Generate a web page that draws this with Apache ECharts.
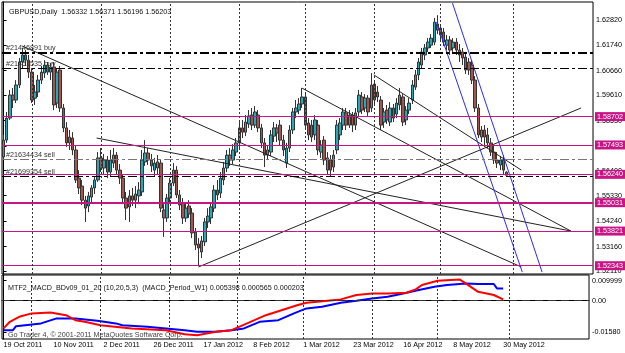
<!DOCTYPE html>
<html>
<head>
<meta charset="utf-8">
<title>GBPUSD Daily</title>
<script src="https://cdn.jsdelivr.net/npm/echarts/dist/echarts.min.js"></script>
<style>
	html, body { margin: 0; padding: 0; background: #fff; }
	#main { width: 625px; height: 353px; }
</style>
</head>
<body>
<div id="main"></div>
<script>
// bars: one per weekday from 19 Oct 2011, 161 with prices, the rest is the empty shift area
var firstDay = Date.UTC(2011, 9, 19);
var slotCount = 188;
var monthNames = ['Jan', 'Feb', 'Mar', 'Apr', 'May', 'Jun', 'Jul', 'Aug', 'Sep', 'Oct', 'Nov', 'Dec'];

var tickLabels = ['19 Oct 2011', '10 Nov 2011', '2 Dec 2011', '26 Dec 2011', '17 Jan 2012', '8 Feb 2012',
	'1 Mar 2012', '23 Mar 2012', '16 Apr 2012', '8 May 2012', '30 May 2012'];
var monthStarts = ['1 Nov 2011', '1 Dec 2011', '2 Jan 2012', '1 Feb 2012', '1 Mar 2012', '2 Apr 2012', '1 May 2012', '1 Jun 2012'];

var opens = [
	1.5698, 1.5770, 1.5864, 1.5962, 1.5941, 1.6005, 1.6103, 1.6133, 1.6111, 1.6060,
	1.5949, 1.5975, 1.6026, 1.6056, 1.6090, 1.6060, 1.6082, 1.5928, 1.6069, 1.5907,
	1.5822, 1.5758, 1.5779, 1.5728, 1.5608, 1.5574, 1.5514, 1.5489, 1.5527, 1.5566,
	1.5600, 1.5694, 1.5651, 1.5685, 1.5634, 1.5672, 1.5706, 1.5642, 1.5608, 1.5523,
	1.5485, 1.5532, 1.5514, 1.5532, 1.5549, 1.5677, 1.5715, 1.5685, 1.5642, 1.5651,
	1.5672, 1.5472, 1.5438, 1.5523, 1.5587, 1.5642, 1.5536, 1.5502, 1.5438, 1.5489,
	1.5459, 1.5378, 1.5327, 1.5293, 1.5336, 1.5421, 1.5438, 1.5480, 1.5557, 1.5544,
	1.5600, 1.5651, 1.5706, 1.5685, 1.5719, 1.5758, 1.5822, 1.5804, 1.5839, 1.5877,
	1.5834, 1.5877, 1.5822, 1.5758, 1.5706, 1.5719, 1.5787, 1.5822, 1.5834, 1.5770,
	1.5672, 1.5736, 1.5813, 1.5890, 1.5898, 1.5924, 1.5954, 1.5843, 1.5834, 1.5792,
	1.5834, 1.5719, 1.5770, 1.5642, 1.5685, 1.5655, 1.5728, 1.5792, 1.5834, 1.5886,
	1.5834, 1.5877, 1.5834, 1.5890, 1.5954, 1.5907, 1.5949, 1.5907, 1.6009, 1.5975,
	1.5941, 1.5847, 1.5898, 1.5847, 1.5907, 1.5881, 1.5920, 1.5954, 1.5856, 1.5898,
	1.5941, 1.5996, 1.6048, 1.6090, 1.6133, 1.6163, 1.6175, 1.6188, 1.6265, 1.6248,
	1.6231, 1.6175, 1.6197, 1.6163, 1.6188, 1.6154, 1.6146, 1.6124, 1.6103, 1.6090,
	1.6026, 1.5907, 1.5783, 1.5813, 1.5792, 1.5758, 1.5719, 1.5685, 1.5664, 1.5685, 1.56332
];
var highs = [
	1.5792, 1.5890, 1.5984, 1.5992, 1.6026, 1.6120, 1.6163, 1.6154, 1.6133, 1.6077,
	1.6005, 1.6048, 1.6086, 1.6111, 1.6103, 1.6099, 1.6103, 1.6077, 1.6086, 1.5924,
	1.5847, 1.5813, 1.5804, 1.5745, 1.5642, 1.5600, 1.5532, 1.5549, 1.5578, 1.5617,
	1.5719, 1.5736, 1.5711, 1.5702, 1.5728, 1.5736, 1.5719, 1.5668, 1.5621, 1.5549,
	1.5557, 1.5566, 1.5574, 1.5591, 1.5728, 1.5770, 1.5736, 1.5711, 1.5694, 1.5706,
	1.5685, 1.5497, 1.5540, 1.5608, 1.5672, 1.5659, 1.5557, 1.5523, 1.5497, 1.5514,
	1.5480, 1.5395, 1.5352, 1.5361, 1.5438, 1.5480, 1.5506, 1.5578, 1.5600, 1.5634,
	1.5677, 1.5728, 1.5736, 1.5753, 1.5779, 1.5847, 1.5856, 1.5877, 1.5898, 1.5907,
	1.5915, 1.5898, 1.5839, 1.5779, 1.5749, 1.5813, 1.5847, 1.5839, 1.5856, 1.5792,
	1.5758, 1.5834, 1.5907, 1.5941, 1.5949, 1.5992, 1.5975, 1.5864, 1.5856, 1.5877,
	1.5856, 1.5770, 1.5787, 1.5719, 1.5706, 1.5728, 1.5856, 1.5864, 1.5907, 1.5907,
	1.5898, 1.5890, 1.5907, 1.5984, 1.5975, 1.5966, 1.5962, 1.6056, 1.6026, 1.6001,
	1.5958, 1.5907, 1.5920, 1.5932, 1.5924, 1.5949, 1.5992, 1.5966, 1.5915, 1.5949,
	1.6026, 1.6069, 1.6120, 1.6163, 1.6180, 1.6205, 1.6222, 1.6291, 1.6303, 1.6265,
	1.6248, 1.6218, 1.6214, 1.6205, 1.6205, 1.6180, 1.6163, 1.6146, 1.6120, 1.6111,
	1.6043, 1.5924, 1.5830, 1.5834, 1.5822, 1.5779, 1.5745, 1.5719, 1.5702, 1.5706, 1.56371
];
var lows = [
	1.5685, 1.5758, 1.5856, 1.5907, 1.5928, 1.5992, 1.6077, 1.6086, 1.6035, 1.5928,
	1.5920, 1.5954, 1.6009, 1.6035, 1.6048, 1.6026, 1.5898, 1.5907, 1.5890, 1.5804,
	1.5741, 1.5728, 1.5706, 1.5587, 1.5540, 1.5493, 1.5421, 1.5463, 1.5506, 1.5540,
	1.5592, 1.5634, 1.5625, 1.5608, 1.5617, 1.5651, 1.5625, 1.5583, 1.5497, 1.5429,
	1.5421, 1.5489, 1.5480, 1.5497, 1.5532, 1.5660, 1.5664, 1.5634, 1.5617, 1.5625,
	1.5463, 1.5357, 1.5421, 1.5506, 1.5574, 1.5523, 1.5472, 1.5412, 1.5421, 1.5438,
	1.5352, 1.5301, 1.5233, 1.5267, 1.5318, 1.5395, 1.5412, 1.5463, 1.5514, 1.5523,
	1.5578, 1.5634, 1.5660, 1.5668, 1.5702, 1.5736, 1.5779, 1.5787, 1.5822, 1.5813,
	1.5822, 1.5804, 1.5736, 1.5655, 1.5685, 1.5702, 1.5762, 1.5762, 1.5749, 1.5702,
	1.5651, 1.5719, 1.5796, 1.5864, 1.5881, 1.5907, 1.5822, 1.5770, 1.5762, 1.5770,
	1.5706, 1.5694, 1.5664, 1.5625, 1.5613, 1.5634, 1.5711, 1.5770, 1.5813, 1.5813,
	1.5822, 1.5804, 1.5813, 1.5873, 1.5881, 1.5890, 1.5873, 1.5890, 1.5924, 1.5932,
	1.5813, 1.5822, 1.5839, 1.5830, 1.5847, 1.5864, 1.5898, 1.5830, 1.5834, 1.5881,
	1.5924, 1.5984, 1.6026, 1.6077, 1.6111, 1.6146, 1.6163, 1.6175, 1.6222, 1.6197,
	1.6171, 1.6154, 1.6133, 1.6146, 1.6133, 1.6103, 1.6090, 1.6052, 1.6048, 1.6009,
	1.5890, 1.5779, 1.5762, 1.5749, 1.5736, 1.5702, 1.5668, 1.5651, 1.5642, 1.5621, 1.56196
];
var closes = [
	1.5770, 1.5864, 1.5962, 1.5941, 1.6005, 1.6103, 1.6133, 1.6111, 1.6060, 1.5941,
	1.5975, 1.6026, 1.6060, 1.6090, 1.6060, 1.6082, 1.5920, 1.6060, 1.5907, 1.5822,
	1.5758, 1.5783, 1.5728, 1.5600, 1.5566, 1.5514, 1.5480, 1.5532, 1.5566, 1.5600,
	1.5694, 1.5651, 1.5685, 1.5634, 1.5685, 1.5706, 1.5642, 1.5608, 1.5523, 1.5480,
	1.5532, 1.5514, 1.5540, 1.5557, 1.5685, 1.5715, 1.5685, 1.5660, 1.5672, 1.5677,
	1.5480, 1.5438, 1.5523, 1.5587, 1.5642, 1.5536, 1.5493, 1.5438, 1.5480, 1.5455,
	1.5374, 1.5323, 1.5310, 1.5340, 1.5421, 1.5446, 1.5485, 1.5557, 1.5536, 1.5608,
	1.5651, 1.5706, 1.5685, 1.5728, 1.5758, 1.5822, 1.5804, 1.5847, 1.5873, 1.5834,
	1.5890, 1.5822, 1.5758, 1.5706, 1.5728, 1.5792, 1.5822, 1.5800, 1.5770, 1.5728,
	1.5736, 1.5813, 1.5890, 1.5907, 1.5924, 1.5954, 1.5834, 1.5792, 1.5783, 1.5856,
	1.5728, 1.5749, 1.5685, 1.5694, 1.5642, 1.5706, 1.5834, 1.5843, 1.5890, 1.5834,
	1.5877, 1.5834, 1.5886, 1.5962, 1.5898, 1.5949, 1.5890, 1.6005, 1.5941, 1.5954,
	1.5834, 1.5890, 1.5856, 1.5907, 1.5864, 1.5928, 1.5962, 1.5847, 1.5898, 1.5928,
	1.6005, 1.6048, 1.6103, 1.6146, 1.6163, 1.6188, 1.6205, 1.6273, 1.6239, 1.6218,
	1.6188, 1.6197, 1.6154, 1.6188, 1.6154, 1.6133, 1.6120, 1.6069, 1.6069, 1.6026,
	1.5907, 1.5792, 1.5813, 1.5783, 1.5758, 1.5719, 1.5685, 1.5672, 1.5685, 1.5642, 1.56203
];

// weekly MACD, [bar, value]
var macdMain = [[0, -0.0148], [3, -0.0148], [4, -0.0128], [12, -0.0114], [17, -0.0089], [23, -0.0089], [30, -0.0101],
	[36, -0.0114], [38, -0.0123], [46, -0.0131], [52, -0.0139], [58, -0.0148], [62, -0.0156], [68, -0.0156],
	[73, -0.0148], [77, -0.0139], [82, -0.0106], [88, -0.0098], [93, -0.0064], [97, -0.0039], [102, -0.0031],
	[108, -0.0011], [113, -0.0001], [118, 0.0011], [123, 0.0019], [128, 0.0036], [133, 0.0053], [138, 0.0069],
	[142, 0.0078], [148, 0.0086], [152, 0.0083], [157, 0.0083], [158, 0.0061], [160, 0.0061]];
var macdSignal = [[0, -0.0139], [2, -0.0106], [5, -0.0081], [9, -0.0064], [15, -0.0059], [20, -0.0073], [23, -0.0098],
	[26, -0.0106], [31, -0.0123], [41, -0.0139], [52, -0.0148], [58, -0.0168], [62, -0.0173], [68, -0.0156],
	[73, -0.0148], [78, -0.0114], [84, -0.0073], [89, -0.0048], [94, -0.0023], [97, -0.0011], [108, 0.0006],
	[113, 0.0028], [118, 0.0036], [123, 0.0036], [129, 0.0039], [132, 0.0056], [134, 0.0078], [139, 0.0099],
	[146, 0.0106], [148, 0.0086], [152, 0.0044], [157, 0.0028], [160, 0.0006]];

var priceTicks = [1.62820, 1.61740, 1.60660, 1.59610, 1.58530, 1.57450, 1.56400, 1.55330, 1.54240, 1.53160, 1.52110];
var macdTicks = [0.009999, 0, -0.0158];
var macdTickText = ['0.009999', '0.00', '-0.01580'];

// horizontal levels (magenta) and open orders
var levels = [1.58702, 1.57493, 1.56240, 1.55031, 1.53821, 1.52343];
var orderNames = ['#21446891 buy', '#21451535 buy', '#21634434 sell', '#21699354 sell'];
var orderPrices = [1.61443, 1.60761, 1.56893, 1.56168];

// trend lines: [bar, price] -> [bar, price]
var trendLines = [
	{ from: [5.8, 1.6172], to: [164.7, 1.5229], color: '#222' },
	{ from: [29.6, 1.5779], to: [180.5, 1.5382], color: '#222' },
	{ from: [62, 1.5229], to: [183.7, 1.5907], color: '#222' },
	{ from: [94.9, 1.5992], to: [180.5, 1.5382], color: '#222' },
	{ from: [117.8, 1.6048], to: [164.7, 1.5642], color: '#222' },
	{ from: [137.7, 1.6273], to: [165, 1.5207], color: '#2a2aff' },
	{ from: [142.8, 1.6354], to: [171.3, 1.5207], color: '#2a2aff' }
];

var categories = [];
for(var t = firstDay; categories.length < slotCount; t += 86400000) {
	var d = new Date(t);
	if(d.getUTCDay() === 0 || d.getUTCDay() === 6) continue;
	categories.push(d.getUTCDate() + ' ' + monthNames[d.getUTCMonth()] + ' ' + d.getUTCFullYear());
}

var candles = [];
for(var i = 0; i < closes.length; i++) {
	candles.push([opens[i], closes[i], lows[i], highs[i]]);
}

var monthIdx = monthStarts.map(function(n) { return categories.indexOf(n); });
var isTickDay = function(idx) { return tickLabels.indexOf(categories[idx]) >= 0; };

var magenta = '#c71585';
var small = 7.2;
var dashDot = [9, 3, 3, 3];

var levelMarks = levels.map(function(v, k) {
	return {
		yAxis: v,
		lineStyle: { color: magenta, width: k === 3 ? 2 : 1, type: 'solid' },
		label: {
			show: true, position: 'end', distance: 2, formatter: v.toFixed(5),
			color: '#fff', backgroundColor: magenta, padding: [1, 2, 1, 2], fontSize: small
		}
	};
});

var orderStyles = [
	{ color: '#000', width: 2 },
	{ color: '#000', width: 1 },
	{ color: '#777', width: 1 },
	{ color: '#000', width: 1 }
];
var orderMarks = orderNames.map(function(n, k) {
	return {
		yAxis: orderPrices[k],
		lineStyle: { color: orderStyles[k].color, width: orderStyles[k].width, type: dashDot },
		label: {
			show: true, position: 'insideStartTop', distance: [4, 1], formatter: n,
			color: '#333', fontSize: small
		}
	};
});

var monthMarks = monthIdx.map(function(m) {
	return { xAxis: m, lineStyle: { color: '#333', width: 1, type: [2, 2] }, label: { show: false } };
});

// markLine rounds to 2 decimals unless told otherwise
var markBase = { silent: true, symbol: ['none', 'none'], animation: false, precision: 6 };

var series = [{
	type: 'candlestick',
	xAxisIndex: 0,
	yAxisIndex: 0,
	data: candles,
	barWidth: 3,
	itemStyle: {
		color: '#25a8b8',
		color0: '#a4564e',
		borderColor: '#333',
		borderColor0: '#333',
		borderWidth: 1
	},
	markLine: Object.assign({ data: levelMarks }, markBase)
}];

trendLines.forEach(function(l, k) {
	var s = {
		type: 'line',
		xAxisIndex: 1,
		yAxisIndex: 0,
		data: [l.from, l.to],
		symbol: 'none',
		silent: true,
		lineStyle: { color: l.color, width: 1 },
		z: 3
	};
	if(k === 0) {
		s.markLine = Object.assign({ data: monthMarks.concat(orderMarks) }, markBase);
	}
	series.push(s);
});

series.push({
	type: 'line',
	xAxisIndex: 3,
	yAxisIndex: 1,
	data: macdMain,
	symbol: 'none',
	silent: true,
	lineStyle: { color: '#0000ff', width: 2 },
	markLine: Object.assign({ data: monthMarks }, markBase)
});
series.push({
	type: 'line',
	xAxisIndex: 3,
	yAxisIndex: 1,
	data: macdSignal,
	symbol: 'none',
	silent: true,
	lineStyle: { color: '#ff0000', width: 2 },
	markLine: Object.assign({
		data: [{ yAxis: 0, lineStyle: { color: '#333', width: 1, type: [8, 5] }, label: { show: false } }]
	}, markBase)
});

var chart = echarts.init(document.getElementById('main'));

var option = {
	animation: false,
	backgroundColor: '#fff',
	textStyle: { fontFamily: 'Liberation Sans, Arial, sans-serif' },
	title: [
		{ text: 'GBPUSD,Daily  1.56332 1.56371 1.56196 1.56203', left: 4, top: 4,
			textStyle: { fontSize: small, fontWeight: 'normal', color: '#111' } },
		{ text: 'MTF2_MACD_BDv09_01_20 (10,20,5,3)  (MACD_Period_W1) 0.005398 0.000565 0.000203', left: 3, top: 280,
			textStyle: { fontSize: small, fontWeight: 'normal', color: '#111' } },
		{ text: 'Go Trader 4, \u00a9 2001-2011 MetaQuotes Software Corp.', left: 3, top: 327,
			textStyle: { fontSize: small, fontWeight: 'normal', color: '#444' } }
	],
	grid: [
		{ left: 2, right: 30, top: 2, height: 272, show: true, borderColor: '#000', borderWidth: 1 },
		{ left: 2, right: 30, top: 275, height: 64, show: true, borderColor: '#000', borderWidth: 1 }
	],
	xAxis: [
		{ type: 'category', gridIndex: 0, data: categories, axisLine: { show: false },
			axisTick: { show: false }, axisLabel: { show: false }, splitLine: { show: false } },
		{ type: 'value', gridIndex: 0, min: -0.5, max: slotCount - 0.5, show: false },
		{ type: 'category', gridIndex: 1, data: categories,
			axisLine: { lineStyle: { color: '#000' } },
			axisTick: { interval: isTickDay, alignWithLabel: true, length: 4, lineStyle: { color: '#000' } },
			axisLabel: { interval: isTickDay, align: 'left', margin: 3, fontSize: small, color: '#000' },
			splitLine: { show: false } },
		{ type: 'value', gridIndex: 1, min: -0.5, max: slotCount - 0.5, show: false }
	],
	yAxis: [
		{ type: 'value', gridIndex: 0, position: 'right', min: 1.5199, max: 1.6359,
			splitLine: { show: false },
			axisLine: { show: true, lineStyle: { color: '#000' } },
			axisTick: { show: true, length: 3, customValues: priceTicks, lineStyle: { color: '#000' } },
			axisLabel: { customValues: priceTicks, margin: 3, fontSize: small, color: '#000',
				formatter: function(v) { return v.toFixed(5); } } },
		{ type: 'value', gridIndex: 1, position: 'right', min: -0.0192, max: 0.0128,
			splitLine: { show: false },
			axisLine: { show: true, lineStyle: { color: '#000' } },
			axisTick: { show: true, length: 3, customValues: macdTicks, lineStyle: { color: '#000' } },
			axisLabel: { customValues: macdTicks, margin: 3, fontSize: small, color: '#000',
				formatter: function(v) {
					for(var k = 0; k < macdTicks.length; k++) {
						if(Math.abs(macdTicks[k] - v) < 1e-7) return macdTickText[k];
					}
					return '';
				} } }
	],
	series: series
};

chart.setOption(option);
</script>
</body>
</html>
